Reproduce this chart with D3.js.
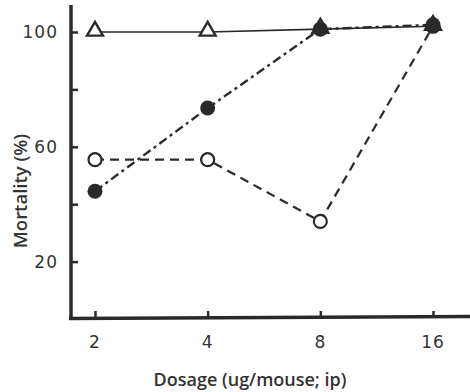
<!DOCTYPE html>
<html><head><meta charset="utf-8">
<script src="https://cdn.jsdelivr.net/npm/d3@7"></script>
<style>body{margin:0;background:#fff}svg{display:block}</style>
</head><body>
<svg id="c" width="470" height="392"></svg>
<script>
const doses = [2, 4, 8, 16];
const triangleOpen = [100, 100, 101, 102];
const circleFilled = [44.5, 73.5, 101, 102.5];
const circleOpen = [55.5, 55.5, 34, 102];
const yTickValues = [20, 40, 60, 80, 100];
const yTickLabels = ["20", "", "60", "", "100"];
const xTickLabels = ["2", "4", "8", "16"];

const svg = d3.select("#c");
const ink = "#2a2a2a";
const x = d3.scaleLog().base(2).domain([2, 16]).range([95, 433]);
const y = d3.scaleLinear().domain([0, 100]).range([319, 32]);

// axes
const yAxis = d3.axisRight(y).tickValues(yTickValues).tickSize(7).tickFormat("");
const gy = svg.append("g").attr("transform", "translate(71,0)").call(yAxis);
gy.select(".domain").remove();
gy.selectAll(".tick line").attr("stroke", ink).attr("stroke-width", 2.5);
svg.append("line").attr("x1", 71).attr("x2", 71).attr("y1", 5).attr("y2", 320)
  .attr("stroke", ink).attr("stroke-width", 3.5);

const xAxis = d3.axisTop(x).tickValues(doses).tickSize(7).tickFormat("");
const gx = svg.append("g").attr("transform", "translate(0,318)").call(xAxis);
gx.select(".domain").remove();
gx.selectAll(".tick line").attr("stroke", ink).attr("stroke-width", 2.5);
svg.append("line").attr("x1", 69).attr("x2", 470).attr("y1", 318.5).attr("y2", 316.5)
  .attr("stroke", ink).attr("stroke-width", 3.5);

// tick labels
svg.append("g").selectAll("text").data(yTickValues.map((v, i) => ({v, t: yTickLabels[i]})).filter(d => d.t))
  .join("text").attr("x", 58).attr("y", d => y(d.v) + 6).attr("text-anchor", "end")
  .attr("font-family", "DejaVu Sans").attr("font-size", 17).attr("fill", "#333")
  .attr("letter-spacing", 1).text(d => d.t);
svg.append("g").selectAll("text").data(doses)
  .join("text").attr("x", d => x(d)).attr("y", 348).attr("text-anchor", "middle")
  .attr("font-family", "DejaVu Sans").attr("font-size", 17).attr("fill", "#333")
  .attr("letter-spacing", 1).text((d, i) => xTickLabels[i]);

// axis titles
svg.append("text").attr("x", 250).attr("y", 386).attr("text-anchor", "middle")
  .attr("font-family", "Open Sans").attr("font-weight", 600).attr("font-size", 18).attr("fill", "#333")
  .text("Dosage (ug/mouse; ip)");
svg.append("text").attr("transform", "translate(27,191) rotate(-90)").attr("text-anchor", "middle")
  .attr("font-family", "Open Sans").attr("font-weight", 600).attr("font-size", 18.5).attr("fill", "#333")
  .text("Mortality (%)");

const line = d3.line().x((d, i) => x(doses[i])).y(d => y(d));

// series lines
svg.append("path").attr("d", line(triangleOpen)).attr("fill", "none")
  .attr("stroke", ink).attr("stroke-width", 1.6);
svg.append("path").attr("d", line(circleOpen)).attr("fill", "none")
  .attr("stroke", ink).attr("stroke-width", 2.2).attr("stroke-dasharray", "9,6");
svg.append("path").attr("d", line(circleFilled)).attr("fill", "none")
  .attr("stroke", ink).attr("stroke-width", 2.4).attr("stroke-dasharray", "9,4,3,4");

// markers
svg.append("g").selectAll("circle").data(circleOpen).join("circle")
  .attr("cx", (d, i) => x(doses[i])).attr("cy", d => y(d)).attr("r", 6.5)
  .attr("fill", "#fff").attr("stroke", ink).attr("stroke-width", 2.2);
svg.append("g").selectAll("path").data(triangleOpen).join("path")
  .attr("d", d3.symbol(d3.symbolTriangle, 110))
  .attr("transform", (d, i) => `translate(${x(doses[i])},${y(d) - 1})`)
  .attr("fill", "#fff").attr("stroke", ink).attr("stroke-width", 2.4);
svg.append("g").selectAll("circle").data(circleFilled).join("circle")
  .attr("cx", (d, i) => x(doses[i])).attr("cy", d => y(d)).attr("r", 7.5)
  .attr("fill", ink);
</script>
</body></html>
